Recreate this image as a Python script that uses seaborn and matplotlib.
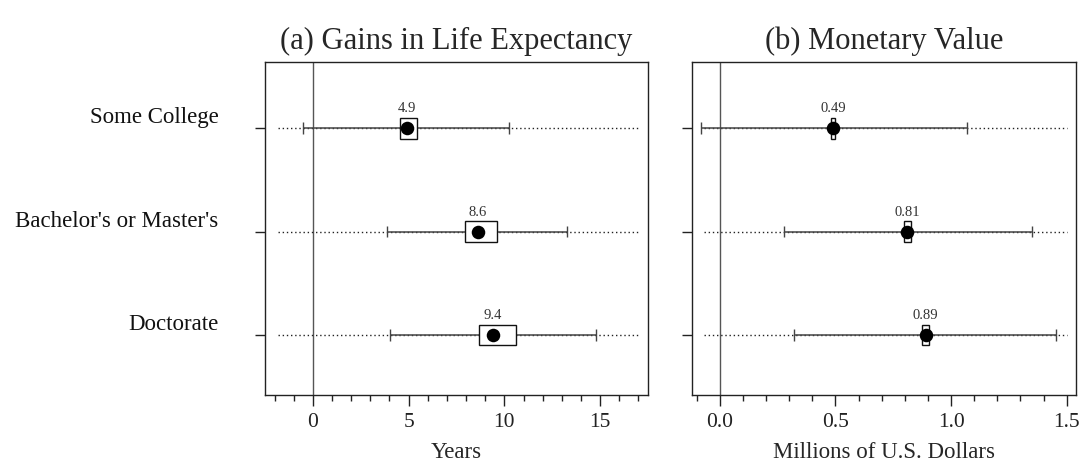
import numpy as np
import pandas as pd
import matplotlib
matplotlib.use("Agg")
import matplotlib.pyplot as plt
from matplotlib.patches import Rectangle
from matplotlib.ticker import MultipleLocator
from matplotlib.transforms import ScaledTranslation
import seaborn as sns

# Education levels, top to bottom
categories = ["Some College", "Bachelor's or Master's", "Doctorate"]

# (a) Gains in life expectancy, years
years_est = [4.9, 8.6, 9.4]
years_box_lo = [4.55, 7.95, 8.70]
years_box_hi = [5.45, 9.60, 10.60]
years_ci_lo = [-0.50, 3.85, 4.05]
years_ci_hi = [10.25, 13.25, 14.80]
years_wide_lo = [-1.8, -1.8, -1.8]
years_wide_hi = [17.0, 17.0, 17.0]

# (b) Monetary value, millions of U.S. dollars
money_est = [0.49, 0.81, 0.89]
money_box_lo = [0.482, 0.796, 0.876]
money_box_hi = [0.498, 0.826, 0.904]
money_ci_lo = [-0.080, 0.277, 0.323]
money_ci_hi = [1.067, 1.351, 1.454]
money_wide_lo = [-0.066, -0.066, -0.066]
money_wide_hi = [1.50, 1.50, 1.50]

years_labels = ["4.9", "8.6", "9.4"]
money_labels = ["0.49", "0.81", "0.89"]

sns.set_theme(style="ticks")
plt.rcParams["font.family"] = ["Liberation Serif", "DejaVu Serif"]

fig = plt.figure(figsize=(10.84, 4.63), dpi=100)
ax_a = fig.add_axes([265 / 1084, 1 - 395 / 463, 383 / 1084, 333 / 463])
ax_b = fig.add_axes([692 / 1084, 1 - 395 / 463, 384 / 1084, 333 / 463])


def draw_panel(ax, est, blo, bhi, clo, chi, wlo, whi, labels):
    rows = np.arange(len(categories))
    df = pd.DataFrame({"row": rows, "est": est})
    # widest interval, dotted
    ax.hlines(rows, wlo, whi, colors="#222222", linestyles=(0, (1, 2)),
              linewidth=1.0, zorder=1)
    # confidence interval with end caps
    ax.hlines(rows, clo, chi, colors="#444444", linewidth=1.1, zorder=2)
    ax.vlines(clo, rows - 0.055, rows + 0.055, colors="#444444", linewidth=1.0, zorder=2)
    ax.vlines(chi, rows - 0.055, rows + 0.055, colors="#444444", linewidth=1.0, zorder=2)
    # inner boxes
    h = 0.2
    for r, lo, hi in zip(rows, blo, bhi):
        ax.add_patch(Rectangle((lo, r - h / 2), hi - lo, h, facecolor="white",
                               edgecolor="#111111", linewidth=1.0, zorder=3))
    sns.scatterplot(data=df, x="est", y="row", ax=ax, color="black", s=95,
                    edgecolor="black", linewidth=0, zorder=5, legend=False)
    for r, x, lab in zip(rows, est, labels):
        ax.text(x, r - h / 2 - 0.025, lab, ha="center", va="bottom",
                fontsize=10.5, color="#333333", zorder=6)
    ax.axvline(0, color="#555555", linewidth=1.0, zorder=0)
    ax.set_ylim(2.58, -0.64)
    ax.set_yticks(rows)
    for s in ax.spines.values():
        s.set_visible(True)
        s.set_linewidth(1.0)
        s.set_color("#222222")
    ax.tick_params(axis="x", which="major", length=8, width=1.0, labelsize=15.5,
                   pad=5, colors="#222222")
    ax.tick_params(axis="x", which="minor", length=4, width=1.0, colors="#222222")
    ax.tick_params(axis="y", length=7, width=1.0, colors="#222222")
    ax.set_ylabel("")


draw_panel(ax_a, years_est, years_box_lo, years_box_hi, years_ci_lo, years_ci_hi,
           years_wide_lo, years_wide_hi, years_labels)
ax_a.set_xlim(-2.5, 17.5)
ax_a.xaxis.set_major_locator(MultipleLocator(5))
ax_a.xaxis.set_minor_locator(MultipleLocator(1))
ax_a.set_yticklabels(categories, fontsize=16.5, color="#111111")
shift = ScaledTranslation(-0.32, 0.13, fig.dpi_scale_trans)
for lab in ax_a.get_yticklabels():
    lab.set_transform(lab.get_transform() + shift)
ax_a.set_xlabel("Years", fontsize=16.5, labelpad=7)
ax_a.set_title("(a) Gains in Life Expectancy", fontsize=22, pad=9)

draw_panel(ax_b, money_est, money_box_lo, money_box_hi, money_ci_lo, money_ci_hi,
           money_wide_lo, money_wide_hi, money_labels)
ax_b.set_xlim(-0.12, 1.54)
ax_b.set_xticks([0.0, 0.5, 1.0, 1.5])
ax_b.set_xticklabels(["0.0", "0.5", "1.0", "1.5"])
ax_b.xaxis.set_minor_locator(MultipleLocator(0.1))
ax_b.set_yticklabels([])
ax_b.set_xlabel("Millions of U.S. Dollars", fontsize=16.5, labelpad=7)
ax_b.set_title("(b) Monetary Value", fontsize=22, pad=9)

fig.savefig("out.png", dpi=100)
